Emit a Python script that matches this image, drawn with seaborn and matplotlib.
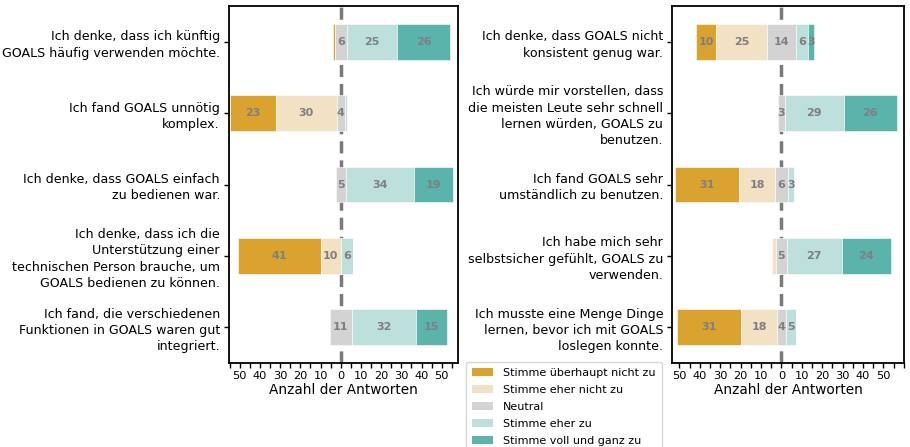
"""Diverging stacked bar chart of SUS answers for GOALS."""
import matplotlib

matplotlib.use("Agg")

import matplotlib.pyplot as plt
from matplotlib.patches import Patch
from matplotlib.ticker import FixedLocator, MultipleLocator, FuncFormatter
import numpy as np
import seaborn as sns

CATEGORIES = [
    "Stimme überhaupt nicht zu",
    "Stimme eher nicht zu",
    "Neutral",
    "Stimme eher zu",
    "Stimme voll und ganz zu",
]
COLORS = ["#DAA330", "#F2E1C2", "#D3D3D3", "#BEE0DC", "#5AB4AC"]

LEFT_QUESTIONS = [
    "Ich denke, dass ich künftig\nGOALS häufig verwenden möchte.",
    "Ich fand GOALS unnötig\nkomplex.",
    "Ich denke, dass GOALS einfach\nzu bedienen war.",
    "Ich denke, dass ich die\nUnterstützung einer\ntechnischen Person brauche, um\nGOALS bedienen zu können.",
    "Ich fand, die verschiedenen\nFunktionen in GOALS waren gut\nintegriert.",
]
LEFT_COUNTS = [
    [1, 0, 6, 25, 26],
    [23, 30, 4, 1, 0],
    [0, 0, 5, 34, 19],
    [41, 10, 0, 6, 0],
    [0, 0, 11, 32, 15],
]

RIGHT_QUESTIONS = [
    "Ich denke, dass GOALS nicht\nkonsistent genug war.",
    "Ich würde mir vorstellen, dass\ndie meisten Leute sehr schnell\nlernen würden, GOALS zu\nbenutzen.",
    "Ich fand GOALS sehr\numständlich zu benutzen.",
    "Ich habe mich sehr\nselbstsicher gefühlt, GOALS zu\nverwenden.",
    "Ich musste eine Menge Dinge\nlernen, bevor ich mit GOALS\nloslegen konnte.",
]
RIGHT_COUNTS = [
    [10, 25, 14, 6, 3],
    [0, 0, 3, 29, 26],
    [31, 18, 6, 3, 0],
    [0, 2, 5, 27, 24],
    [31, 18, 4, 5, 0],
]

sns.set_theme(style="ticks")
plt.rcParams["font.family"] = ["DejaVu Sans"]
plt.rcParams.update({"text.color": "black", "axes.labelcolor": "black",
                     "xtick.color": "black", "ytick.color": "black"})


def draw_panel(ax, questions, counts, xlim):
    counts = np.array(counts, dtype=float)
    y = np.arange(len(questions))
    # start of every bar: left of the two disagree parts and half of neutral
    starts = -(counts[:, 0] + counts[:, 1] + counts[:, 2] / 2)
    ax.axvline(0, color="#7a7a7a", lw=2.5, ls=(0, (3.5, 2)), zorder=0)
    left = starts.copy()
    for j, color in enumerate(COLORS):
        widths = counts[:, j]
        ax.barh(y, widths, left=left, height=0.5, color=color,
                edgecolor="white", linewidth=0.4, zorder=2)
        for yi, w, l in zip(y, widths, left):
            if w >= 3:
                ax.text(l + w / 2, yi, f"{int(w)}", ha="center", va="center",
                        color="#7f7f7f", fontsize=8, fontweight="bold", zorder=3)
        left = left + widths
    ax.set_yticks(y)
    ax.set_yticklabels(questions, fontsize=9.1, linespacing=1.33)
    ax.set_ylim(len(questions) - 0.5, -0.5)
    ax.set_xlim(*xlim)
    ax.xaxis.set_major_locator(FixedLocator(np.arange(-50, 51, 10)))
    ax.xaxis.set_minor_locator(MultipleLocator(5))
    ax.xaxis.set_major_formatter(FuncFormatter(lambda v, p: f"{abs(int(round(v)))}"))
    ax.tick_params(axis="x", which="both", length=3.5, width=1, labelsize=8.2, pad=2)
    ax.tick_params(axis="y", length=3.5, width=1, pad=3)
    ax.set_xlabel("Anzahl der Antworten", fontsize=9.8, labelpad=2)
    for spine in ax.spines.values():
        spine.set_visible(True)
        spine.set_color("black")
        spine.set_linewidth(1.3)


fig = plt.figure(figsize=(9.1, 4.47), dpi=100)
ax_left = fig.add_axes([229 / 910, 84 / 447, 228.7 / 910, 357 / 447])
ax_right = fig.add_axes([672.3 / 910, 84 / 447, 232 / 910, 357 / 447])

draw_panel(ax_left, LEFT_QUESTIONS, LEFT_COUNTS, (-55.3, 57.9))
draw_panel(ax_right, RIGHT_QUESTIONS, RIGHT_COUNTS, (-53.5, 60.2))

handles = [Patch(facecolor=c, edgecolor="none") for c in COLORS]
fig.legend(handles, CATEGORIES, loc="upper left",
           bbox_to_anchor=(466 / 910, 1 - 362 / 447), fontsize=8,
           frameon=True, edgecolor="#cccccc", fancybox=True,
           handlelength=1.9, handletextpad=0.9, labelspacing=0.62,
           borderpad=0.55, borderaxespad=0)

fig.savefig("out.png", dpi=100)
plt.close(fig)
